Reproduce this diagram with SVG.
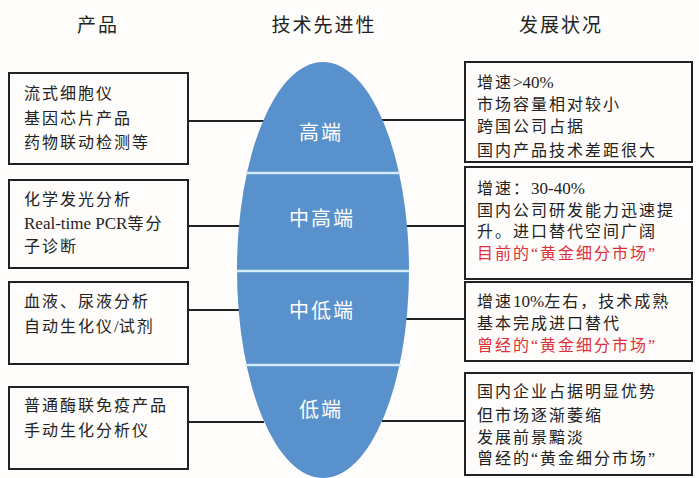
<svg xmlns="http://www.w3.org/2000/svg" width="699" height="478" viewBox="0 0 699 478">
<style>
text{font-family:"Liberation Serif","Noto Sans CJK SC",serif;fill:#222}
.h{font-size:19px;text-anchor:middle;letter-spacing:2px}
.t{font-size:16px;letter-spacing:2px}
.l{font-family:"Liberation Serif","Noto Sans CJK SC",serif;font-size:17px;letter-spacing:0}
.r{fill:#e0303a}
.box{fill:#fefdfb;stroke:#222;stroke-width:2}
.lab{font-size:20px;fill:#fff;text-anchor:middle;letter-spacing:2px}
.div{stroke:#d4ebf8;stroke-width:2.5}
.con{stroke:#222;stroke-width:2;fill:none}
</style>
<rect width="699" height="478" fill="#fefdfb"/>
<g id="headers">
<text class="h" x="98" y="32">产品</text>
<text class="h" x="324" y="32">技术先进性</text>
<text class="h" x="561" y="32">发展状况</text>
</g>
<g id="connectors">
<line class="con" x1="188" y1="121" x2="264" y2="121"/>
<line class="con" x1="188" y1="226" x2="242" y2="226"/>
<line class="con" x1="188" y1="310" x2="240" y2="310"/>
<line class="con" x1="188" y1="422" x2="264" y2="422"/>
<line class="con" x1="382" y1="120" x2="465" y2="120"/>
<line class="con" x1="404" y1="226" x2="465" y2="226"/>
<line class="con" x1="406" y1="319" x2="465" y2="319"/>
<line class="con" x1="382" y1="421" x2="465" y2="421"/>
</g>
<g id="ellipse">
<ellipse cx="323" cy="270" rx="86" ry="208" fill="#5891cc"/>
<line class="div" x1="246" y1="173" x2="400" y2="173"/>
<line class="div" x1="237" y1="271" x2="409" y2="271"/>
<line class="div" x1="245" y1="365" x2="401" y2="365"/>
<text class="lab" x="321" y="140">高端</text>
<text class="lab" x="322" y="226">中高端</text>
<text class="lab" x="322" y="318">中低端</text>
<text class="lab" x="321" y="417">低端</text>
</g>
<g id="left1">
<rect class="box" x="9" y="73" width="179" height="91"/>
<text class="t" x="24" y="99">流式细胞仪</text>
<text class="t" x="24" y="124">基因芯片产品</text>
<text class="t" x="24" y="148">药物联动检测等</text>
</g>
<g id="left2">
<rect class="box" x="9" y="180" width="179" height="88"/>
<text class="t" x="24" y="205">化学发光分析</text>
<text class="t" x="24" y="229"><tspan class="l">Real-time PCR</tspan>等分</text>
<text class="t" x="24" y="252">子诊断</text>
</g>
<g id="left3">
<rect class="box" x="9" y="282" width="179" height="82"/>
<text class="t" x="24" y="307">血液、尿液分析</text>
<text class="t" x="24" y="332">自动生化仪<tspan class="l">/</tspan>试剂</text>
</g>
<g id="left4">
<rect class="box" x="9" y="387" width="179" height="82"/>
<text class="t" x="24" y="411">普通酶联免疫产品</text>
<text class="t" x="24" y="436">手动生化分析仪</text>
</g>
<g id="right1">
<rect class="box" x="465" y="62" width="227" height="100"/>
<text class="t" x="477" y="88">增速<tspan class="l">&gt;40%</tspan></text>
<text class="t" x="477" y="110">市场容量相对较小</text>
<text class="t" x="477" y="132">跨国公司占据</text>
<text class="t" x="477" y="156">国内产品技术差距很大</text>
</g>
<g id="right2">
<rect class="box" x="465" y="167" width="227" height="112"/>
<text class="t" x="477" y="194">增速：<tspan class="l">30-40%</tspan></text>
<text class="t" x="477" y="216">国内公司研发能力迅速提</text>
<text class="t" x="477" y="237">升。进口替代空间广阔</text>
<text class="t r" x="477" y="259">目前的“黄金细分市场”</text>
</g>
<g id="right3">
<rect class="box" x="465" y="282" width="227" height="79"/>
<text class="t" x="477" y="307">增速<tspan class="l">10%</tspan>左右，技术成熟</text>
<text class="t" x="477" y="329">基本完成进口替代</text>
<text class="t r" x="477" y="351">曾经的“黄金细分市场”</text>
</g>
<g id="right4">
<rect class="box" x="465" y="373" width="227" height="102"/>
<text class="t" x="477" y="397">国内企业占据明显优势</text>
<text class="t" x="477" y="421">但市场逐渐萎缩</text>
<text class="t" x="477" y="443">发展前景黯淡</text>
<text class="t" x="477" y="464">曾经的“黄金细分市场”</text>
</g>
</svg>
